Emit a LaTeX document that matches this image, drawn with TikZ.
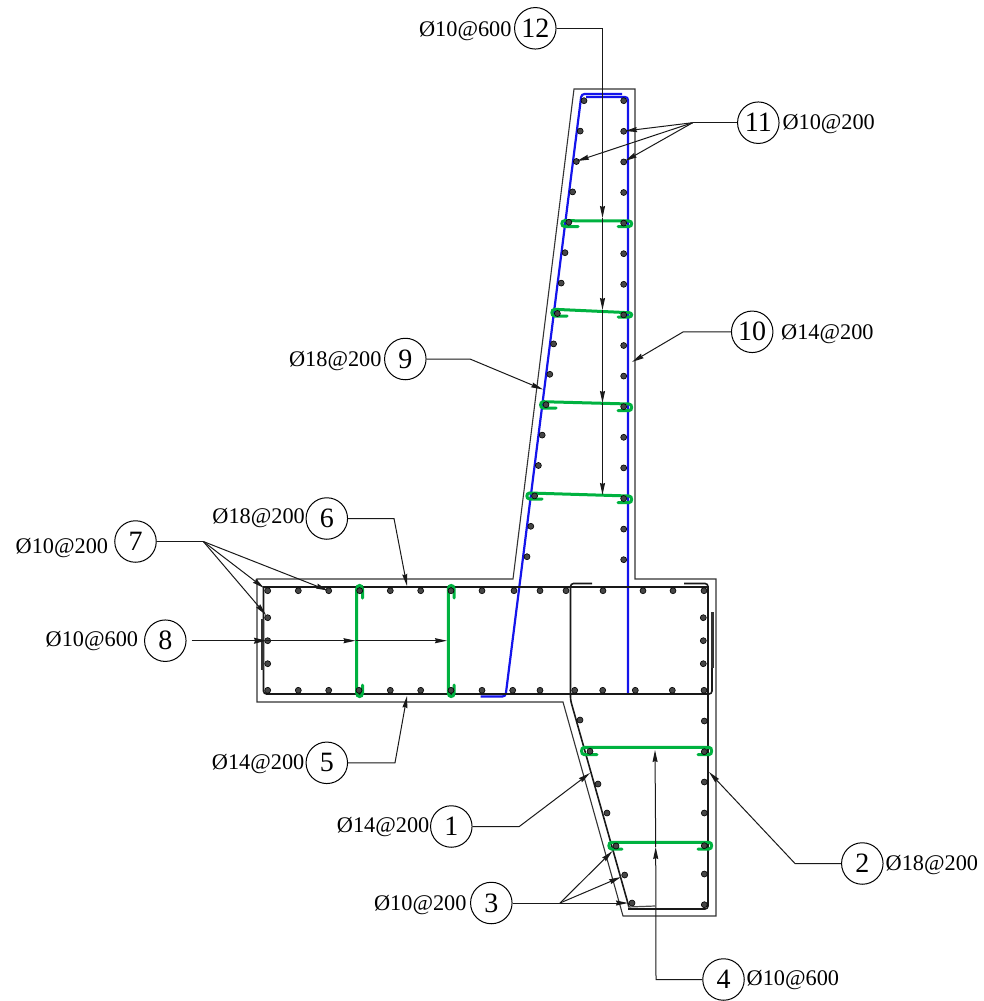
\documentclass[tikz,border=0pt]{standalone}
\usepackage{fontspec}
\setmainfont{Liberation Serif}
\usetikzlibrary{arrows.meta}
\definecolor{tiegreen}{RGB}{0,178,64}
\definecolor{barblue}{RGB}{20,20,235}
\definecolor{dotgray}{RGB}{70,70,70}
\newcommand{\dg}[1]{\raisebox{-1pt}{#1}}
\tikzset{
  concrete/.style={draw=black!80,line width=1.1pt,line join=miter},
  blackbar/.style={draw=black!90,line width=1.6pt,rounded corners=3pt},
  heavybar/.style={draw=black!80,line width=3pt},
  bluebar/.style={draw=barblue,line width=2.2pt,rounded corners=3pt},
  greentie/.style={draw=tiegreen,line width=3pt,line cap=round},
  rebar/.style={draw=black,fill=dotgray,line width=0.6pt},
  leader/.style={draw=black!90,line width=1pt},
  pointer/.style={draw=black!90,line width=1pt,-{Stealth[length=12pt,width=5pt,inset=1pt]}},
  mark circle/.style={draw=black,line width=1pt,circle,minimum size=41.5pt,inner sep=0pt,font=\fontsize{28}{30}\selectfont},
  spec/.style={inner sep=0pt,font=\fontsize{22.3}{24}\selectfont},
}
\begin{document}
\begin{tikzpicture}[x=1pt,y=-1pt]
\useasboundingbox (0,0) rectangle (983,1001);
% concrete outline
\draw[concrete] (574,89) -- (635,89) -- (635,579) -- (716,579) -- (716,916) -- (623,916) -- (563,702) -- (257,702) -- (257,579) -- (513,579) -- cycle;
% blue bars
\draw[bluebar] (622,94) -- (581.5,94) -- (505.5,696.5) -- (480.5,696.5);
\draw[bluebar] (586,97) -- (628,97) -- (628,694);
% black bars
\draw[blackbar] (263.5,586) -- (263.5,694) -- (712,694) -- (712,612);
\draw[blackbar] (263,587) -- (708,587);
\draw[blackbar] (684,583.5) -- (708,583.5) -- (708,909) -- (628,909);
\draw[blackbar] (592,583.5) -- (570.5,583.5) -- (570.5,700) -- (629,907);
\draw[draw=black!70,line width=1.2pt] (628,907) -- (655,906);
\draw[heavybar] (262.5,619) -- (262.5,670);
\draw[heavybar] (712,612) -- (712,668);
% green ties
\foreach \xa/\ya/\xb/\yb/\xh/\yh/\xr/\yr in {564.5/220.7/629/221/578/226.5/618/226.5, 554.5/309.3/629/312.7/567/316/618/317, 543.2/401.7/629/404/556/408/618/410.7, 529.5/493/629/496/542/499/618/502.7, 584.2/747.3/709/747.3/597/754.7/698/754.7, 611.5/842.3/709/842.3/622/849/698/849}{
  \draw[greentie] (\xh,\yh) -- (\xa,\yh) .. controls (\xa-3.5,\yh) and (\xa-3.5,\ya) .. (\xa,\ya) -- (\xb,\yb) .. controls (\xb+3.5,\yb) and (\xb+3.5,\yr) .. (\xb,\yr) -- (\xr,\yr);
}
\foreach \xv in {356.7,448.3}{
  \draw[greentie] (\xv+5.8,598) -- (\xv+5.8,589) .. controls (\xv+5.8,584.3) and (\xv,584.3) .. (\xv,589) -- (\xv,693) .. controls (\xv,697.7) and (\xv+5.8,697.7) .. (\xv+5.8,693) -- (\xv+5.8,685);
}
% rebar dots
\foreach \k in {0,...,15}{
  \fill[rebar] (623.7,100.7+30.6*\k) circle (3);
  \fill[rebar] (584-3.8*\k,100.7+30.4*\k) circle (3);
}
\foreach \x in {267.7,298.3,328.7,359.7,390.3,420.7,451,482,514,540,566,603,643,673,704}{
  \fill[rebar] (\x,590.7) circle (3);
}
\foreach \x in {267.7,298.3,328.7,359,390.3,420.7,451,482,512.7,540,574.7,602.7,635.3,672.3,704}{
  \fill[rebar] (\x,690.3) circle (3);
}
\foreach \y in {617.7,640.7,663.7}{
  \fill[rebar] (267.7,\y) circle (3);
  \fill[rebar] (703.3,\y) circle (3);
}
\foreach \y in {721,751.7,782,813,845.7,874,904.7}{
  \fill[rebar] (704.3,\y) circle (3);
}
\foreach \x/\y in {580/720,590/751.3,598/784,607/813,616/846,624.7/875,632/903}{
  \fill[rebar] (\x,\y) circle (3);
}
% callouts
\node[mark circle] (c1) at (451.3,826.5) {\dg{1}};
\node[mark circle] (c2) at (862.3,863.5) {\dg{2}};
\node[mark circle] (c3) at (491.3,903) {\dg{3}};
\node[mark circle] (c4) at (723.5,979.5) {\dg{4}};
\node[mark circle] (c5) at (326.8,762.8) {\dg{5}};
\node[mark circle] (c6) at (326.8,518.5) {\dg{6}};
\node[mark circle] (c7) at (135.5,541.5) {\dg{7}};
\node[mark circle] (c8) at (165.3,640.7) {\dg{8}};
\node[mark circle] (c9) at (405.3,359) {\dg{9}};
\node[mark circle] (c10) at (752.2,331.8) {\dg{10}};
\node[mark circle] (c11) at (758.3,122.7) {\dg{11}};
\node[mark circle] (c12) at (535.3,28.3) {\dg{12}};
\node[spec,anchor=base east] (s1) at (429.5,832.3) {Ø14@200};
\node[spec,anchor=base west] (s2) at (885.5,870) {Ø18@200};
\node[spec,anchor=base east] (s3) at (466.7,910) {Ø10@200};
\node[spec,anchor=base west] (s4) at (746.5,985) {Ø10@600};
\node[spec,anchor=base east] (s5) at (304.5,769) {Ø14@200};
\node[spec,anchor=base east] (s6) at (305,523.3) {Ø18@200};
\node[spec,anchor=base east] (s7) at (108.3,553.3) {Ø10@200};
\node[spec,anchor=base east] (s8) at (138.3,646.7) {Ø10@600};
\node[spec,anchor=base east] (s9) at (381.7,366) {Ø18@200};
\node[spec,anchor=base west] (s10) at (781,339.3) {Ø14@200};
\node[spec,anchor=base west] (s11) at (782.3,129) {Ø10@200};
\node[spec,anchor=base east] (s12) at (511.7,36) {Ø10@600};
% leaders
\draw[pointer] (c12.east) -- (602.5,28.3) -- (602.5,218);
\draw[pointer] (602.5,218) -- (602.5,310);
\draw[pointer] (602.5,310) -- (602.5,403);
\draw[pointer] (602.5,403) -- (602.5,495);
\coordinate (j11) at (692.7,122.7);
\draw[leader] (c11.west) -- (j11);
\draw[pointer] (j11) -- (625,131);
\draw[pointer] (j11) -- (625,161);
\draw[pointer] (j11) -- (577,161);
\draw[pointer] (c10.west) -- (683.3,331.8) -- (632,362);
\draw[pointer] (c9.east) -- (470,359) -- (543,389.5);
\draw[pointer] (c6.east) -- (394,518.5) -- (407,586);
\coordinate (j7) at (203.3,541.5);
\draw[leader] (c7.east) -- (j7);
\draw[pointer] (j7) -- (264,588);
\draw[pointer] (j7) -- (266,615);
\draw[pointer] (j7) -- (328,590.5);
\draw[pointer,-{Stealth[length=12pt,width=6pt,inset=1pt]}] (191.7,640.7) -- (266,640.7);
\draw[pointer] (266,640.7) -- (355.5,640.7);
\draw[pointer] (355.5,640.7) -- (447,640.7);
\draw[pointer] (c5.east) -- (395,762.8) -- (407,696);
\draw[pointer] (c1.east) -- (519.3,826.5) -- (590,773);
\draw[pointer] (c2.west) -- (795,863.5) -- (709,772);
\coordinate (j3) at (560,903);
\draw[leader] (c3.east) -- (j3);
\draw[pointer] (j3) -- (612.5,851);
\draw[pointer] (j3) -- (621,877);
\draw[pointer] (j3) -- (628,903);
\draw[pointer] (c4.west) -- (656,979.5) -- (655.7,847);
\draw[pointer] (655.7,847) -- (655,750);
\end{tikzpicture}
\end{document}
